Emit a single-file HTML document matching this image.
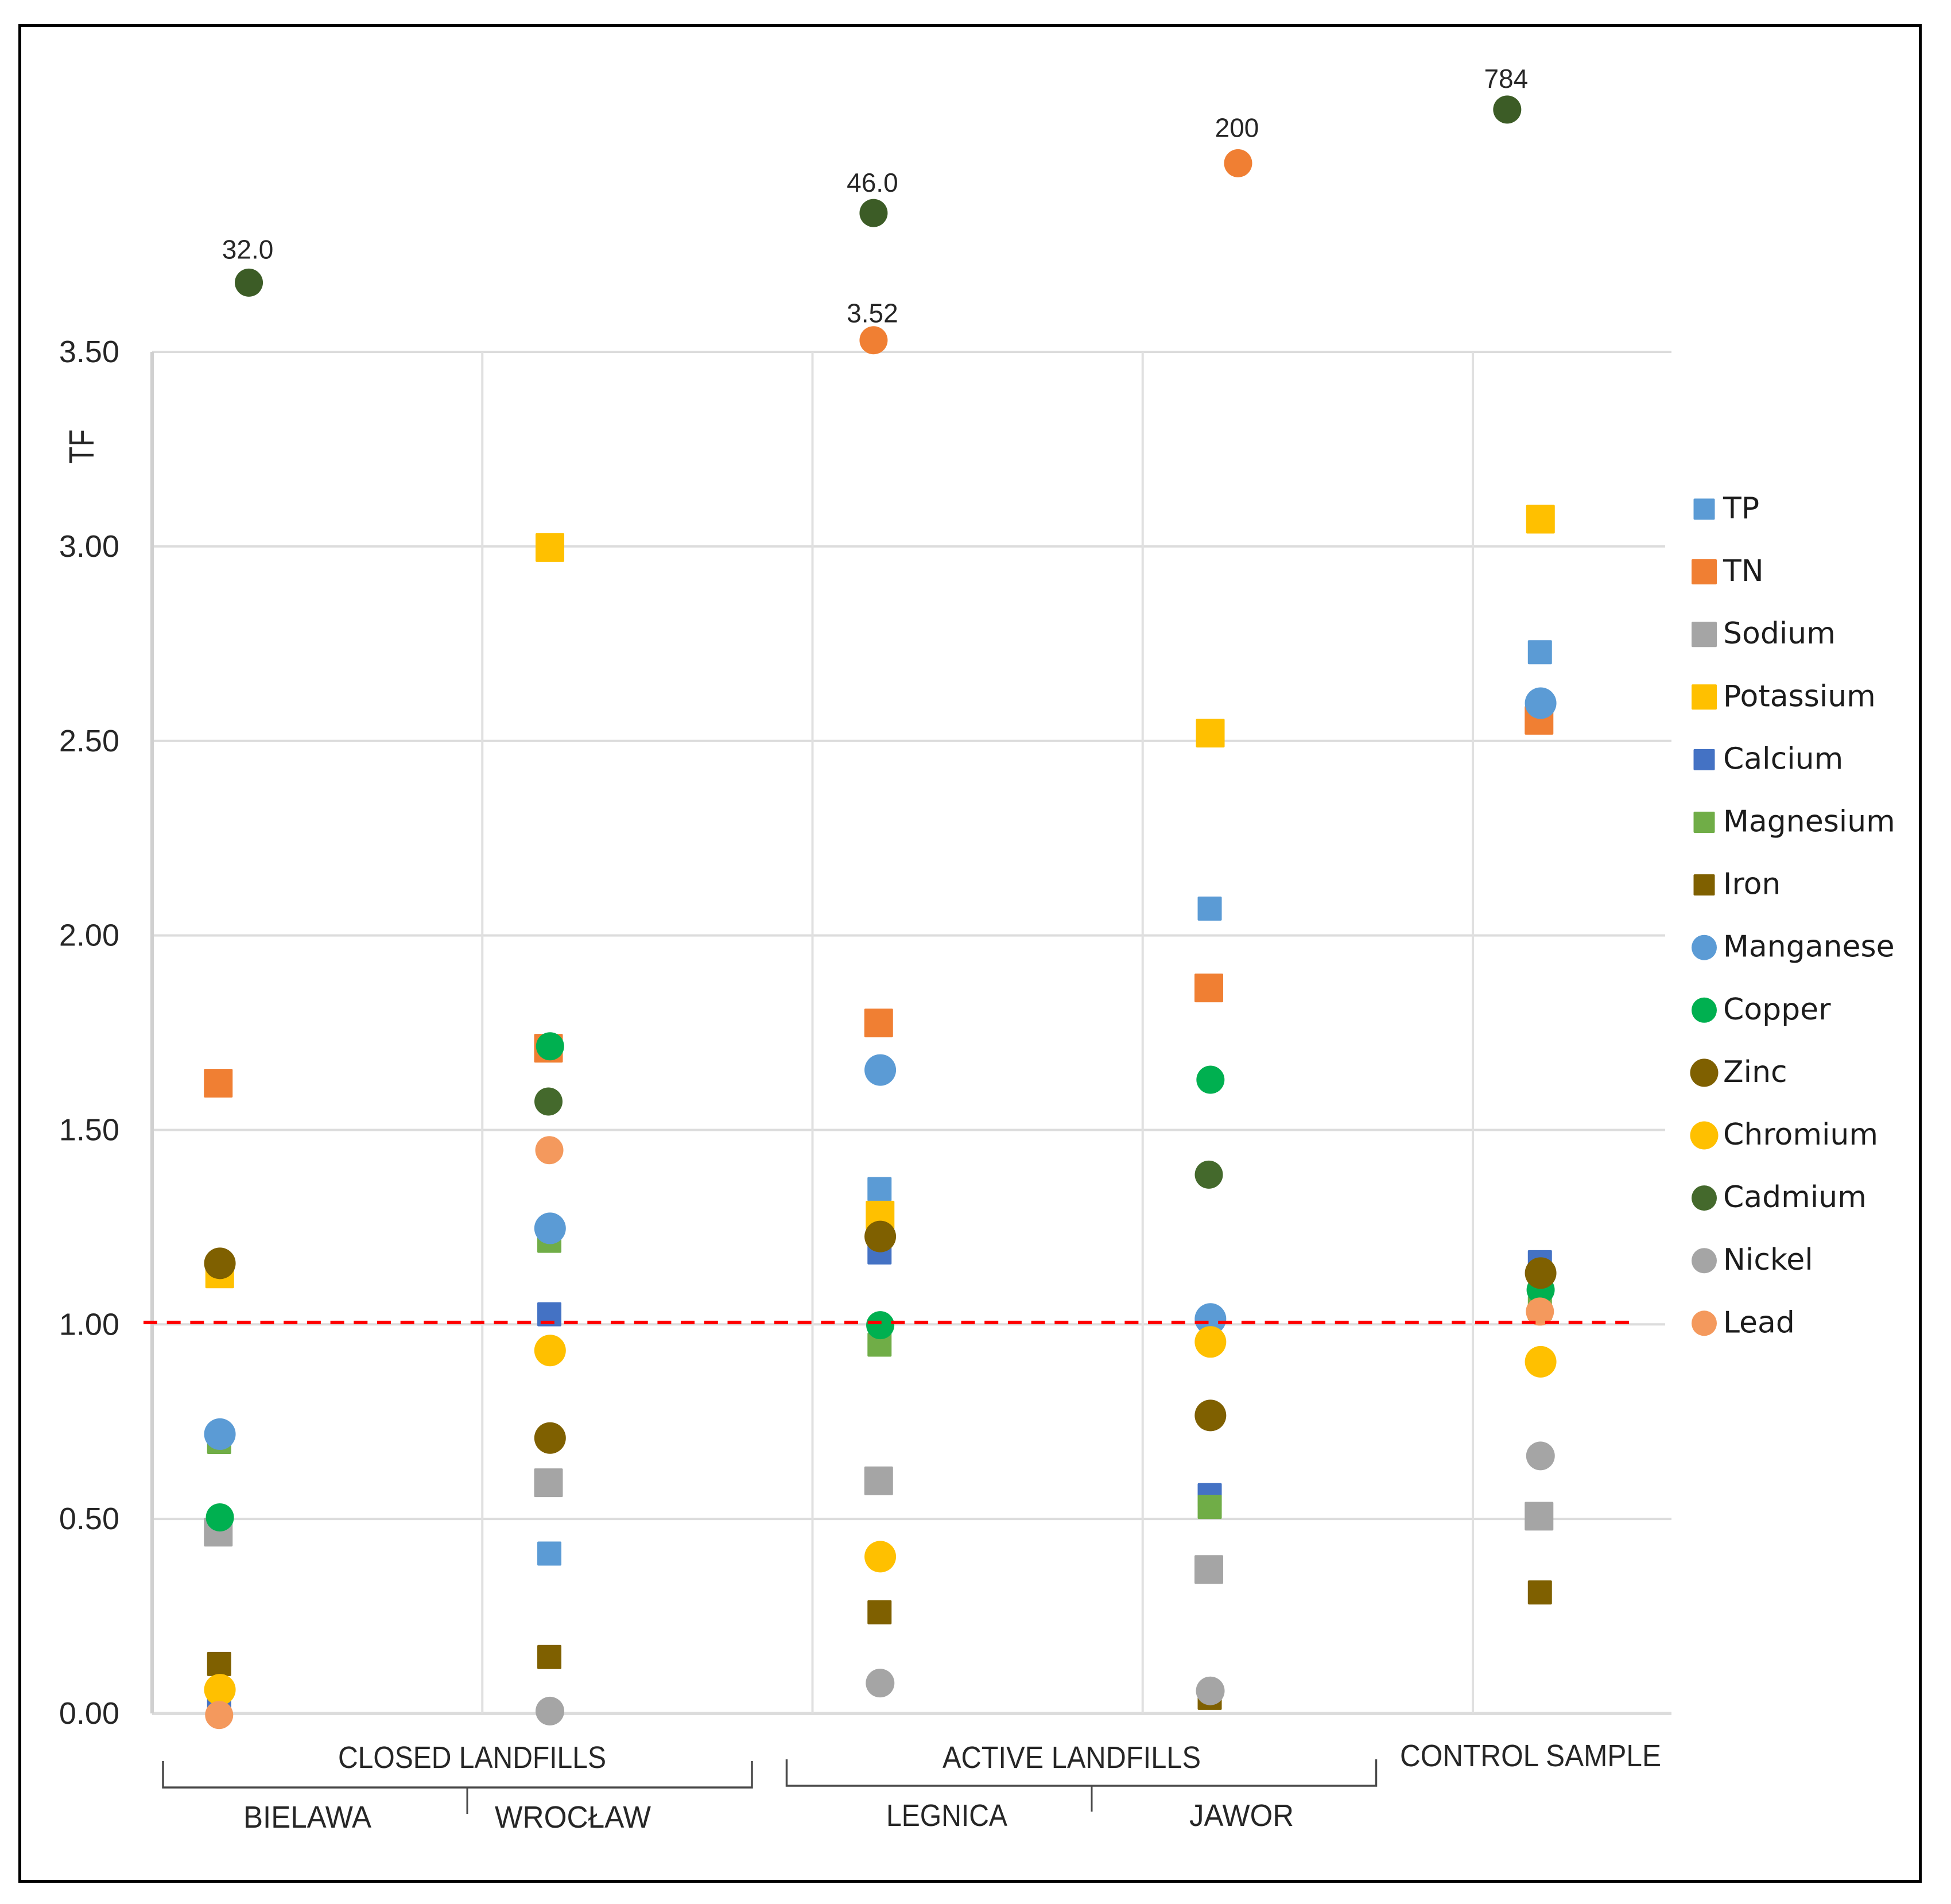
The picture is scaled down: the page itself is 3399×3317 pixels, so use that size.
<!DOCTYPE html>
<html lang="en">
<head>
<meta charset="utf-8">
<title>TF scatter chart</title>
<style>
html,body{margin:0;padding:0;background:#fff;}
svg{display:block;}
text{font-family:"Liberation Sans",sans-serif;fill:#262626;}
.legend-text{font-family:"DejaVu Sans",sans-serif;font-size:52px;fill:#1c1c1c;}
</style>
</head>
<body>
<svg id="chart" xmlns="http://www.w3.org/2000/svg" width="3399" height="3317" viewBox="0 0 3399 3317">
  <rect x="0" y="0" width="3399" height="3317" fill="#ffffff"/>
  <rect x="34.5" y="44.5" width="3311" height="3233" fill="none" stroke="#000000" stroke-width="5"/>
  <g id="grid"></g>
  <g id="ticks"></g>
  <text transform="translate(163,808) rotate(-90)" font-size="61" textLength="60" lengthAdjust="spacingAndGlyphs">TF</text>
  <g id="marks"></g>
  <line id="ref" stroke="#ff0000" stroke-width="6" stroke-dasharray="24 16.7"/>
  <g id="outliers"></g>
  <g id="legend"></g>

  <g fill="none" stroke="#4a4a4a">
    <path d="M284 3068V3114H1310V3068" stroke-width="3.5"/>
    <line x1="814" y1="3114" x2="814" y2="3160" stroke-width="3"/>
  </g>
  <g fill="none" stroke="#4a4a4a">
    <path d="M1370.5 3065V3111H2397.5V3065" stroke-width="3.5"/>
    <line x1="1902" y1="3111" x2="1902" y2="3156" stroke-width="3"/>
  </g>
  <text x="589" y="3080" font-size="54" textLength="467" lengthAdjust="spacingAndGlyphs">CLOSED LANDFILLS</text>
  <text x="1642" y="3080" font-size="54" textLength="450" lengthAdjust="spacingAndGlyphs">ACTIVE LANDFILLS</text>
  <text x="2439" y="3077" font-size="54" textLength="455" lengthAdjust="spacingAndGlyphs">CONTROL SAMPLE</text>
  <text x="424" y="3184" font-size="54" textLength="223" lengthAdjust="spacingAndGlyphs">BIELAWA</text>
  <text x="862" y="3184" font-size="54" textLength="272" lengthAdjust="spacingAndGlyphs">WROCŁAW</text>
  <text x="1544" y="3181" font-size="54" textLength="211" lengthAdjust="spacingAndGlyphs">LEGNICA</text>
  <text x="2072" y="3181" font-size="54" textLength="182" lengthAdjust="spacingAndGlyphs">JAWOR</text>
</svg>

<script>
// ---- chart data ----
// order of sites: Bielawa, Wroclaw, Legnica, Jawor, Control
const sites = ["BIELAWA", "WROCŁAW", "LEGNICA", "JAWOR", "CONTROL"];
const sitePositions = [0.203, 1.203, 2.203, 3.203, 4.203];
const yTicks = [0, 0.5, 1, 1.5, 2, 2.5, 3, 3.5];
const yTickLabels = ["0.00", "0.50", "1.00", "1.50", "2.00", "2.50", "3.00", "3.50"];
const xGridPositions = [0, 1, 2, 3, 4];
const thresholdValue = 1.005;

const seriesNames = ["TP", "TN", "Sodium", "Potassium", "Calcium", "Magnesium", "Iron", "Manganese", "Copper", "Zinc", "Chromium", "Cadmium", "Nickel", "Lead"];

const tpValues        = [null,  0.411, 1.348, 2.069, 2.728];
const tnValues        = [1.62,  1.71,  1.775, 1.865, 2.553];
const sodiumValues    = [0.466, 0.593, 0.598, 0.370, 0.507];
const potassiumValues = [1.13,  2.997, 1.281, 2.52,  3.07];
const calciumValues   = [0.02,  1.026, 1.185, 0.561, 1.16];
const magnesiumValues = [0.698, 1.215, 0.948, 0.531, 1.042];
const ironValues      = [0.127, 0.145, 0.26,  0.04,  0.311];
const manganeseValues = [0.718, 1.247, 1.654, 1.014, 2.597];
const copperValues    = [0.504, 1.715, 0.998, 1.629, 1.089];
const zincValues      = [1.157, 0.708, 1.226, 0.766, 1.132];
const chromiumValues  = [0.061, 0.933, 0.403, 0.955, 0.904];
const cadmiumValues   = [null,  1.573, null,  1.385, null];
const nickelValues    = [null,  0.006, 0.078, 0.058, 0.662];
const leadValues      = [-0.004, 1.448, null, null,  1.033];

// off-scale points drawn above the axis on a broken scale, with printed values
const outlierSeries = ["Cadmium", "Cadmium", "TN", "TN", "Cadmium"];
const outlierXValues = [0.293, 2.185, 2.185, 3.289, 4.104];
const outlierPlotValues = [3.678, 3.857, 3.53, 3.985, 4.123];
const outlierLabels = ["32.0", "46.0", "3.52", "200", "784"];

// ---- axis functions ----
const X0 = 265, X_UNIT = 575.25, Y0 = 2985, Y_UNIT = 677.7;
function xScale(v) { return X0 + X_UNIT * v; }
function yScale(v) { return Y0 - Y_UNIT * v; }

// ---- marker styling ----
const allValues = [tpValues, tnValues, sodiumValues, potassiumValues, calciumValues, magnesiumValues, ironValues, manganeseValues, copperValues, zincValues, chromiumValues, cadmiumValues, nickelValues, leadValues];
const styles = [
  {shape:"square", size:42, color:"#5B9BD5", dx:0,    legendSize:37},
  {shape:"square", size:50, color:"#F07F33", dx:-1.5, legendSize:44},
  {shape:"square", size:50, color:"#A5A5A5", dx:-1.5, legendSize:44},
  {shape:"square", size:50, color:"#FFC000", dx:1,    legendSize:44},
  {shape:"square", size:42, color:"#4472C4", dx:0,    legendSize:37},
  {shape:"square", size:42, color:"#70AD47", dx:0,    legendSize:37},
  {shape:"square", size:42, color:"#7F6000", dx:0,    legendSize:37},
  {shape:"circle", size:55, color:"#5B9BD5", dx:1.3,  legendSize:44},
  {shape:"circle", size:49, color:"#00B050", dx:1.3,  legendSize:44},
  {shape:"circle", size:55, color:"#7F6000", dx:1.3,  legendSize:49},
  {shape:"circle", size:55, color:"#FFC000", dx:1.3,  legendSize:49},
  {shape:"circle", size:49, color:"#44692C", dx:-1.5, legendSize:44},
  {shape:"circle", size:50, color:"#A5A5A5", dx:1,    legendSize:44},
  {shape:"circle", size:49, color:"#F4995D", dx:0,    legendSize:44}
];

const NS = "http://www.w3.org/2000/svg";
function make(tag, attrs, parent) {
  const el = document.createElementNS(NS, tag);
  for (const k in attrs) el.setAttribute(k, attrs[k]);
  parent.appendChild(el);
  return el;
}
function slug(s) { return s.toLowerCase().replace(/[^a-z0-9]+/g, "-"); }

function drawMarker(parent, style, cx, cy, size) {
  if (style.shape === "square") {
    return make("rect", {x: cx - size / 2, y: cy - size / 2, width: size, height: size, rx: 2, fill: style.color}, parent);
  }
  return make("circle", {cx: cx, cy: cy, r: size / 2, fill: style.color}, parent);
}

// ---- gridlines ----
const gridG = document.getElementById("grid");
yTicks.forEach(function (t, i) {
  const isBase = t === 0;
  const longLine = t === 0 || t === 0.5 || t === 2.5 || t === 3.5;
  const line = make("line", {x1: X0, x2: longLine ? 2912 : 2901, y1: yScale(t), y2: yScale(t), stroke: "#DCDCDC", "stroke-width": isBase ? 6 : 4}, gridG);
  
  
});
xGridPositions.forEach(function (p, i) {
  const line = make("line", {x1: xScale(p), x2: xScale(p), y1: yScale(3.5), y2: yScale(0), stroke: i === 0 ? "#D0D0D0" : "#E0E0E0", "stroke-width": i === 0 ? 6 : 4}, gridG);
  
  
});

// ---- y tick labels ----
const ticksG = document.getElementById("ticks");
yTicks.forEach(function (t, i) {
  const label = make("text", {x: 208, y: yScale(t) + 18, "text-anchor": "end", "font-size": 54}, ticksG);
  label.textContent = yTickLabels[i];
  
  
});

// ---- threshold line ----
const ref = document.getElementById("ref");
ref.setAttribute("x1", 250);
ref.setAttribute("x2", 2842);
ref.setAttribute("y1", yScale(thresholdValue));
ref.setAttribute("y2", yScale(thresholdValue));

// ---- data points ----
const marksG = document.getElementById("marks");
seriesNames.forEach(function (name, s) {
  const style = styles[s];
  const group = make("g", {}, marksG);
  
  
  allValues[s].forEach(function (v, i) {
    if (v === null) return;
    const mark = drawMarker(group, style, xScale(sitePositions[i]) + style.dx, yScale(v), style.size);
    
    
  });
});

// ---- off-scale points and printed values ----
const outliersG = document.getElementById("outliers");
const outlierColors = {Cadmium: "#3C5C26", TN: "#F07F33"};
const outlierLabelGaps = [42, 37, 31, 46, 38];
outlierLabels.forEach(function (txt, i) {
  const cx = xScale(outlierXValues[i]);
  const cy = yScale(outlierPlotValues[i]);
  const dot = make("circle", {cx: cx, cy: cy, r: 24.5, fill: outlierColors[outlierSeries[i]]}, outliersG);
  
  
  const label = make("text", {x: cx - 2, y: cy - outlierLabelGaps[i], "text-anchor": "middle", "font-size": 46}, outliersG);
  label.textContent = txt;
  
  
});

// ---- legend ----
const legendG = document.getElementById("legend");
seriesNames.forEach(function (name, s) {
  const style = styles[s];
  const cy = 887 + s * 109.1;
  const entry = make("g", {}, legendG);
  
  
  const swatch = drawMarker(entry, style, 2969, cy, style.legendSize);
  
  
  const label = make("text", {x: 3002, y: cy + 16, class: "legend-text"}, entry);
  label.textContent = name;
  
  
});
</script>
</body>
</html>
